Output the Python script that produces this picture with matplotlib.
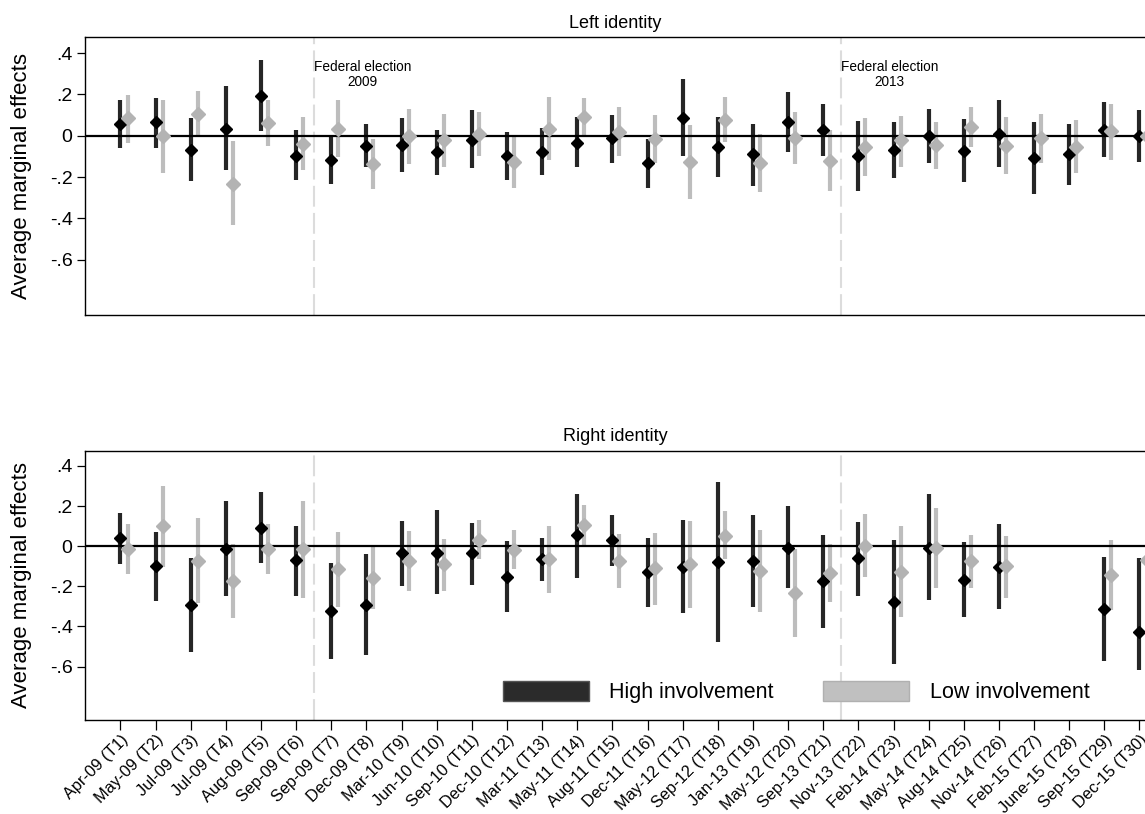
import numpy as np
from matplotlib import pyplot as plt
from matplotlib.patches import Patch

plt.rcParams['font.family'] = ['Liberation Sans', 'DejaVu Sans']

#Survey waves
waves = ["Apr-09 (T1)", "May-09 (T2)", "Jul-09 (T3)", "Jul-09 (T4)", "Aug-09 (T5)",
         "Sep-09 (T6)", "Sep-09 (T7)", "Dec-09 (T8)", "Mar-10 (T9)", "Jun-10 (T10)",
         "Sep-10 (T11)", "Dec-10 (T12)", "Mar-11 (T13)", "May-11 (T14)", "Aug-11 (T15)",
         "Dec-11 (T16)", "May-12 (T17)", "Sep-12 (T18)", "Jan-13 (T19)", "May-12 (T20)",
         "Sep-13 (T21)", "Nov-13 (T22)", "Feb-14 (T23)", "May-14 (T24)", "Aug-14 (T25)",
         "Nov-14 (T26)", "Feb-15 (T27)", "June-15 (T28)", "Sep-15 (T29)", "Dec-15 (T30)"]

#Left identity - high involvement (estimate, upper, lower)
left_high = [0.055, 0.065, -0.068, 0.032, 0.194, -0.097, -0.116, -0.048, -0.045, -0.081,
             -0.019, -0.100, -0.081, -0.035, -0.013, -0.132, 0.086, -0.055, -0.090, 0.068,
             0.029, -0.097, -0.068, 0.000, -0.076, 0.010, -0.108, -0.089, 0.029, -0.003]
left_high_up = [0.171, 0.182, 0.086, 0.242, 0.368, 0.029, 0.000, 0.058, 0.084, 0.029,
                0.123, 0.018, 0.035, 0.090, 0.102, -0.015, 0.276, 0.090, 0.058, 0.211,
                0.155, 0.073, 0.065, 0.129, 0.081, 0.171, 0.066, 0.058, 0.163, 0.123]
left_high_lo = [-0.057, -0.057, -0.221, -0.168, 0.021, -0.213, -0.232, -0.152, -0.173, -0.189,
                -0.157, -0.213, -0.192, -0.153, -0.132, -0.252, -0.097, -0.200, -0.241, -0.081,
                -0.100, -0.265, -0.205, -0.132, -0.226, -0.149, -0.282, -0.239, -0.103, -0.129]

#Left identity - low involvement
left_low = [0.086, -0.003, 0.107, -0.232, 0.061, -0.039, 0.032, -0.139, -0.003, -0.021,
            0.010, -0.129, 0.032, 0.090, 0.019, -0.016, -0.126, 0.077, -0.132, -0.013,
            -0.121, -0.055, -0.019, -0.047, 0.040, -0.048, -0.011, -0.055, 0.021, 0.000]
left_low_up = [0.199, 0.174, 0.218, -0.027, 0.171, 0.090, 0.171, -0.016, 0.129, 0.106,
               0.116, -0.006, 0.186, 0.182, 0.137, 0.102, 0.052, 0.186, 0.010, 0.113,
               0.026, 0.086, 0.097, 0.065, 0.137, 0.089, 0.105, 0.074, 0.153, 0.120]
left_low_lo = [-0.035, -0.178, -0.003, -0.431, -0.052, -0.168, -0.105, -0.258, -0.137, -0.149,
               -0.097, -0.252, -0.116, 0.003, -0.100, -0.132, -0.305, -0.032, -0.270, -0.137,
               -0.265, -0.194, -0.149, -0.161, -0.055, -0.186, -0.132, -0.181, -0.116, -0.120]

#Right identity - high involvement (T27, T28 not estimated)
right_high = [0.041, -0.100, -0.294, -0.012, 0.093, -0.070, -0.322, -0.294, -0.036, -0.033,
              -0.036, -0.153, -0.066, 0.055, 0.030, -0.129, -0.103, -0.080, -0.076, -0.007,
              -0.174, -0.061, -0.279, -0.007, -0.166, -0.103, np.nan, np.nan, -0.313, -0.426]
right_high_up = [0.166, 0.071, -0.061, 0.226, 0.270, 0.103, -0.083, -0.041, 0.126, 0.179,
                 0.116, 0.027, 0.041, 0.259, 0.154, 0.043, 0.129, 0.322, 0.158, 0.201,
                 0.058, 0.119, 0.030, 0.259, 0.022, 0.113, np.nan, np.nan, -0.053, -0.061]
right_high_lo = [-0.091, -0.272, -0.526, -0.249, -0.086, -0.249, -0.564, -0.542, -0.197, -0.239,
                 -0.191, -0.327, -0.172, -0.156, -0.098, -0.302, -0.332, -0.476, -0.305, -0.206,
                 -0.406, -0.249, -0.587, -0.269, -0.352, -0.313, np.nan, np.nan, -0.572, -0.617]

#Right identity - low involvement
right_low = [-0.013, 0.100, -0.073, -0.172, -0.013, -0.013, -0.113, -0.156, -0.073, -0.091,
             0.030, -0.017, -0.063, 0.104, -0.073, -0.109, -0.090, 0.050, -0.124, -0.232,
             -0.133, 0.003, -0.128, -0.007, -0.073, -0.100, np.nan, np.nan, -0.144, -0.070]
right_low_up = [0.113, 0.302, 0.143, 0.013, 0.113, 0.226, 0.071, 0.000, 0.076, 0.035,
                0.129, 0.083, 0.103, 0.204, 0.060, 0.068, 0.126, 0.174, 0.080, -0.015,
                0.010, 0.163, 0.103, 0.192, 0.058, 0.051, np.nan, np.nan, 0.030, 0.050]
right_low_lo = [-0.136, -0.103, -0.285, -0.360, -0.139, -0.257, -0.302, -0.315, -0.222, -0.222,
                -0.065, -0.116, -0.231, 0.003, -0.207, -0.294, -0.310, -0.065, -0.327, -0.454,
                -0.277, -0.153, -0.352, -0.207, -0.207, -0.257, np.nan, np.nan, -0.318, -0.200]

#Elections (between waves)
elections = [6.5, 21.5]
election_labels = ["Federal election\n2009", "Federal election\n2013"]

DARK = '#262626'
LIGHT = '#bdbdbd'
W, H = 1145, 814


def draw_panel(ax, title, high, high_up, high_lo, low, low_up, low_lo):
    """
    Draws one identity panel: point estimates with confidence bars
    for high and low involvement
    """
    x = np.arange(1, len(waves) + 1)
    #Black series sits on the wave, grey slightly right of it
    ax.vlines(x, high_lo, high_up, color=DARK, lw=3, zorder=3)
    ax.plot(x, high, 'D', color='black', ms=6.6, zorder=5)
    ax.vlines(x + 0.2, low_lo, low_up, color=LIGHT, lw=3, zorder=3)
    ax.plot(x + 0.2, low, 'D', color='#b3b3b3', ms=6.8, zorder=5)

    ax.axhline(0, color='black', lw=1.6, zorder=4)
    for e in elections:
        ax.axvline(e, color='#dcdcdc', lw=1.5, dashes=(10, 3), zorder=1)

    ax.set_xlim(-0.01, 30.157)
    ax.set_ylim(-0.866, 0.476)
    ax.set_yticks([0.4, 0.2, 0, -0.2, -0.4, -0.6])
    ax.set_yticklabels(['.4', '.2', '0', '-.2', '-.4', '-.6'], fontsize=14)
    ax.tick_params(axis='y', length=6, width=0.9, pad=3)
    ax.set_xticks(x)
    ax.spines['right'].set_visible(False)
    for s in ['left', 'top', 'bottom']:
        ax.spines[s].set_linewidth(1.0)
    ax.set_title(title, fontsize=13, pad=7)


fig = plt.figure(figsize=(W / 100, H / 100), dpi=100)

#Axes placed in pixel terms to follow the original layout
ax1 = fig.add_axes([85 / W, (H - 314.8) / H, 1060 / W, 277.5 / H])
ax2 = fig.add_axes([85 / W, (H - 720) / H, 1060 / W, 269.3 / H])

draw_panel(ax1, "Left identity", left_high, left_high_up, left_high_lo,
           left_low, left_low_up, left_low_lo)
draw_panel(ax2, "Right identity", right_high, right_high_up, right_high_lo,
           right_low, right_low_up, right_low_lo)

#Election notes only on the top panel
for e, lab in zip(elections, election_labels):
    ax1.text(e + 1.38, 0.295, lab, ha='center', va='center', fontsize=9.8, linespacing=1.1)

ax1.tick_params(axis='x', length=0, labelbottom=False)
ax2.tick_params(axis='x', length=7, width=0.9, pad=2)
ax2.set_xticklabels(waves, rotation=45, ha='right', rotation_mode='anchor', fontsize=11.8)

for y0, y1 in [(37.3, 314.8), (450.7, 720)]:
    fig.text(22 / W, 1 - (y0 + y1) / 2 / H, "Average marginal effects",
             rotation=90, ha='center', va='center', fontsize=16)

#Legend
handles = [Patch(facecolor='#2b2b2b', edgecolor='#555555', label='High involvement'),
           Patch(facecolor='#c0c0c0', edgecolor='#b0b0b0', label='Low involvement')]
fig.legend(handles=handles, loc='center left', bbox_to_anchor=(502.7 / W, 1 - 692 / H),
           ncol=2, frameon=False, fontsize=15.5, handlelength=4.0, handleheight=1.05,
           handletextpad=0.95, columnspacing=2.3, borderpad=0, borderaxespad=0)

plt.savefig('out.png', dpi=100)
